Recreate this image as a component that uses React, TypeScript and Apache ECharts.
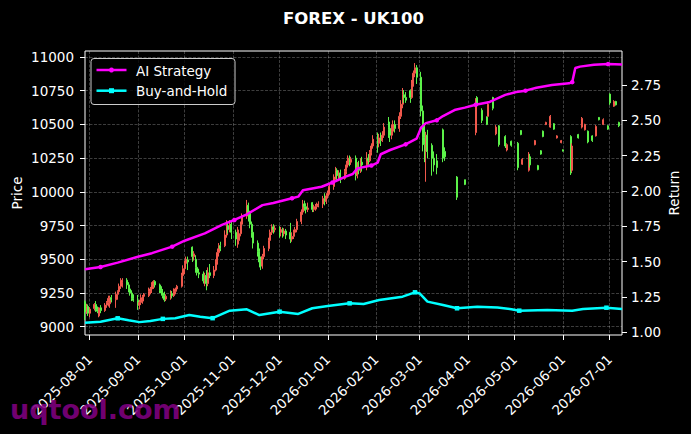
import React, { useEffect, useRef } from "react";
import * as echarts from "echarts";

const TITLE = "FOREX - UK100";
const START_DATE = "2025-07-29";
const END_DATE = "2026-07-09";

const PRICE_MIN = 9000;
const PRICE_MAX = 11000;
const PRICE_STEP = 250;
const RETURN_MIN = 1.0;
const RETURN_MAX = 2.75;
const RETURN_STEP = 0.25;

// [date, open, close, low, high]
const candles: [string, number, number, number, number][] = [
  ["2025-07-29", 9185, 9110, 9050, 9195],
  ["2025-07-30", 9110, 9150, 9095, 9170],
  ["2025-07-31", 9150, 9100, 9080, 9165],
  ["2025-08-01", 9100, 9130, 9070, 9145],
  ["2025-08-04", 9135, 9165, 9120, 9175],
  ["2025-08-05", 9165, 9130, 9110, 9190],
  ["2025-08-06", 9130, 9115, 9100, 9150],
  ["2025-08-07", 9080, 9140, 9070, 9145],
  ["2025-08-08", 9140, 9120, 9100, 9160],
  ["2025-08-11", 9120, 9160, 9110, 9175],
  ["2025-08-12", 9160, 9180, 9140, 9190],
  ["2025-08-13", 9180, 9210, 9150, 9230],
  ["2025-08-14", 9170, 9215, 9140, 9230],
  ["2025-08-15", 9215, 9200, 9180, 9235],
  ["2025-08-18", 9200, 9240, 9140, 9260],
  ["2025-08-19", 9240, 9260, 9200, 9270],
  ["2025-08-20", 9260, 9300, 9250, 9320],
  ["2025-08-21", 9300, 9340, 9280, 9360],
  ["2025-08-22", 9330, 9345, 9290, 9360],
  ["2025-08-25", 9345, 9310, 9280, 9360],
  ["2025-08-26", 9310, 9280, 9255, 9330],
  ["2025-08-27", 9280, 9250, 9230, 9290],
  ["2025-08-28", 9250, 9210, 9190, 9270],
  ["2025-08-29", 9210, 9195, 9185, 9240],
  ["2025-09-01", 9195, 9160, 9125, 9235],
  ["2025-09-02", 9160, 9180, 9130, 9200],
  ["2025-09-03", 9180, 9215, 9160, 9240],
  ["2025-09-04", 9190, 9225, 9170, 9235],
  ["2025-09-05", 9225, 9240, 9200, 9250],
  ["2025-09-08", 9230, 9260, 9220, 9290],
  ["2025-09-09", 9260, 9280, 9240, 9295],
  ["2025-09-10", 9280, 9310, 9250, 9330],
  ["2025-09-11", 9300, 9335, 9280, 9345],
  ["2025-09-12", 9335, 9310, 9290, 9345],
  ["2025-09-15", 9310, 9270, 9250, 9320],
  ["2025-09-16", 9270, 9250, 9230, 9300],
  ["2025-09-17", 9250, 9230, 9210, 9280],
  ["2025-09-18", 9230, 9200, 9185, 9260],
  ["2025-09-19", 9205, 9225, 9190, 9240],
  ["2025-09-22", 9215, 9245, 9200, 9270],
  ["2025-09-23", 9245, 9230, 9210, 9265],
  ["2025-09-24", 9230, 9260, 9220, 9285],
  ["2025-09-25", 9260, 9280, 9240, 9290],
  ["2025-09-26", 9280, 9300, 9260, 9310],
  ["2025-09-29", 9300, 9380, 9290, 9400],
  ["2025-09-30", 9380, 9430, 9360, 9455],
  ["2025-10-01", 9430, 9470, 9390, 9490],
  ["2025-10-02", 9470, 9500, 9440, 9520],
  ["2025-10-03", 9495, 9480, 9420, 9520],
  ["2025-10-06", 9590, 9520, 9480, 9595],
  ["2025-10-07", 9520, 9540, 9490, 9560],
  ["2025-10-08", 9500, 9440, 9400, 9530],
  ["2025-10-09", 9440, 9400, 9380, 9460],
  ["2025-10-10", 9400, 9390, 9360, 9430],
  ["2025-10-13", 9390, 9340, 9320, 9410],
  ["2025-10-14", 9340, 9380, 9300, 9400],
  ["2025-10-15", 9380, 9320, 9270, 9420],
  ["2025-10-16", 9320, 9400, 9300, 9440],
  ["2025-10-17", 9400, 9380, 9360, 9465],
  ["2025-10-20", 9380, 9420, 9360, 9450],
  ["2025-10-21", 9420, 9480, 9410, 9500],
  ["2025-10-22", 9480, 9550, 9460, 9580],
  ["2025-10-23", 9550, 9600, 9520, 9620],
  ["2025-10-24", 9600, 9580, 9560, 9630],
  ["2025-10-27", 9600, 9680, 9590, 9715],
  ["2025-10-28", 9680, 9750, 9660, 9790],
  ["2025-10-29", 9750, 9720, 9690, 9780],
  ["2025-10-30", 9720, 9760, 9700, 9790],
  ["2025-10-31", 9760, 9700, 9650, 9780],
  ["2025-11-03", 9700, 9650, 9600, 9720],
  ["2025-11-04", 9650, 9700, 9585, 9740],
  ["2025-11-05", 9640, 9690, 9610, 9720],
  ["2025-11-06", 9690, 9760, 9670, 9780],
  ["2025-11-07", 9760, 9820, 9740, 9840],
  ["2025-11-10", 9820, 9900, 9800, 9940],
  ["2025-11-11", 9900, 9840, 9780, 9920],
  ["2025-11-12", 9840, 9760, 9730, 9860],
  ["2025-11-13", 9760, 9700, 9660, 9780],
  ["2025-11-14", 9700, 9620, 9580, 9720],
  ["2025-11-17", 9620, 9560, 9520, 9640],
  ["2025-11-18", 9560, 9480, 9440, 9580],
  ["2025-11-19", 9480, 9450, 9420, 9520],
  ["2025-11-20", 9450, 9520, 9430, 9540],
  ["2025-11-21", 9520, 9580, 9500, 9600],
  ["2025-11-24", 9580, 9640, 9560, 9660],
  ["2025-11-25", 9640, 9700, 9610, 9720],
  ["2025-11-26", 9700, 9740, 9680, 9760],
  ["2025-11-27", 9740, 9720, 9690, 9760],
  ["2025-11-28", 9720, 9730, 9700, 9750],
  ["2025-12-01", 9730, 9700, 9660, 9745],
  ["2025-12-02", 9700, 9720, 9670, 9740],
  ["2025-12-03", 9720, 9690, 9660, 9735],
  ["2025-12-04", 9690, 9710, 9670, 9730],
  ["2025-12-05", 9710, 9680, 9650, 9725],
  ["2025-12-08", 9700, 9650, 9620, 9770],
  ["2025-12-09", 9650, 9670, 9630, 9700],
  ["2025-12-10", 9670, 9700, 9650, 9720],
  ["2025-12-11", 9700, 9720, 9680, 9740],
  ["2025-12-12", 9720, 9780, 9700, 9800],
  ["2025-12-15", 9780, 9850, 9760, 9870],
  ["2025-12-16", 9850, 9910, 9830, 9940],
  ["2025-12-17", 9910, 9890, 9860, 9935],
  ["2025-12-18", 9890, 9870, 9840, 9915],
  ["2025-12-19", 9870, 9880, 9850, 9920],
  ["2025-12-22", 9920, 9870, 9850, 9925],
  ["2025-12-23", 9870, 9880, 9850, 9905],
  ["2025-12-24", 9880, 9890, 9860, 9910],
  ["2025-12-25", 9890, 9900, 9870, 9920],
  ["2025-12-26", 9900, 9910, 9885, 9930],
  ["2025-12-29", 9910, 9950, 9880, 9970],
  ["2025-12-30", 9950, 9930, 9900, 9990],
  ["2025-12-31", 9930, 9970, 9910, 9990],
  ["2026-01-01", 9970, 9990, 9950, 10010],
  ["2026-01-02", 9990, 10040, 9980, 10060],
  ["2026-01-05", 10040, 10110, 10015, 10130],
  ["2026-01-06", 10110, 10160, 10090, 10185],
  ["2026-01-07", 10160, 10120, 10080, 10175],
  ["2026-01-08", 10120, 10140, 10080, 10160],
  ["2026-01-09", 10140, 10100, 10065, 10165],
  ["2026-01-12", 10100, 10150, 10090, 10170],
  ["2026-01-13", 10150, 10200, 10130, 10230],
  ["2026-01-14", 10200, 10250, 10180, 10270],
  ["2026-01-15", 10250, 10220, 10190, 10270],
  ["2026-01-16", 10220, 10240, 10200, 10260],
  ["2026-01-19", 10250, 10120, 10085, 10270],
  ["2026-01-20", 10120, 10180, 10100, 10220],
  ["2026-01-21", 10180, 10160, 10130, 10230],
  ["2026-01-22", 10160, 10220, 10140, 10250],
  ["2026-01-23", 10220, 10200, 10150, 10260],
  ["2026-01-26", 10200, 10250, 10160, 10295],
  ["2026-01-27", 10250, 10230, 10200, 10280],
  ["2026-01-28", 10230, 10290, 10220, 10310],
  ["2026-01-29", 10290, 10340, 10270, 10360],
  ["2026-01-30", 10340, 10390, 10320, 10420],
  ["2026-02-02", 10390, 10360, 10290, 10440],
  ["2026-02-03", 10360, 10400, 10330, 10430],
  ["2026-02-04", 10400, 10380, 10340, 10440],
  ["2026-02-05", 10380, 10420, 10370, 10450],
  ["2026-02-06", 10420, 10480, 10400, 10510],
  ["2026-02-09", 10480, 10460, 10400, 10555],
  ["2026-02-10", 10470, 10420, 10370, 10520],
  ["2026-02-11", 10420, 10450, 10390, 10500],
  ["2026-02-12", 10450, 10500, 10430, 10530],
  ["2026-02-13", 10500, 10470, 10440, 10530],
  ["2026-02-16", 10470, 10560, 10445, 10590],
  ["2026-02-17", 10560, 10650, 10540, 10680],
  ["2026-02-18", 10650, 10720, 10620, 10770],
  ["2026-02-19", 10720, 10700, 10660, 10755],
  ["2026-02-20", 10700, 10680, 10660, 10740],
  ["2026-02-23", 10750, 10700, 10660, 10760],
  ["2026-02-24", 10700, 10800, 10690, 10830],
  ["2026-02-25", 10800, 10880, 10780, 10900],
  ["2026-02-26", 10880, 10920, 10850, 10955],
  ["2026-02-27", 10920, 10850, 10800, 10940],
  ["2026-03-02", 10850, 10600, 10560, 10890],
  ["2026-03-03", 10600, 10400, 10300, 10640],
  ["2026-03-04", 10400, 10350, 10220, 10495],
  ["2026-03-05", 10300, 10420, 10075, 10445],
  ["2026-03-06", 10420, 10300, 10250, 10460],
  ["2026-03-09", 10345, 10250, 10120, 10360],
  ["2026-03-10", 10250, 10200, 10150, 10300],
  ["2026-03-12", 10230, 10180, 10130, 10280],
  ["2026-03-16", 10460, 10250, 10220, 10470],
  ["2026-03-17", 10300, 10260, 10230, 10330],
  ["2026-03-25", 10110, 9960, 9940, 10117],
  ["2026-03-30", 10090, 10055, 10050, 10090],
  ["2026-04-06", 10440, 10640, 10420, 10695],
  ["2026-04-07", 10700, 10640, 10630, 10710],
  ["2026-04-10", 10605, 10530, 10510, 10620],
  ["2026-04-13", 10555, 10500, 10495, 10560],
  ["2026-04-14", 10560, 10650, 10557, 10668],
  ["2026-04-17", 10700, 10620, 10605, 10705],
  ["2026-04-19", 10430, 10480, 10420, 10495],
  ["2026-04-21", 10490, 10350, 10335, 10495],
  ["2026-04-25", 10410, 10340, 10325, 10420],
  ["2026-04-26", 10310, 10350, 10300, 10360],
  ["2026-04-29", 10375, 10345, 10335, 10380],
  ["2026-05-03", 10360, 10180, 10160, 10370],
  ["2026-05-05", 10455, 10425, 10420, 10458],
  ["2026-05-06", 10205, 10240, 10200, 10250],
  ["2026-05-10", 10160, 10280, 10150, 10295],
  ["2026-05-11", 10260, 10200, 10180, 10280],
  ["2026-05-14", 10350, 10380, 10345, 10385],
  ["2026-05-16", 10195, 10165, 10160, 10200],
  ["2026-05-18", 10305, 10280, 10275, 10310],
  ["2026-05-19", 10450, 10410, 10405, 10455],
  ["2026-05-21", 10500, 10515, 10495, 10520],
  ["2026-05-24", 10480, 10560, 10475, 10570],
  ["2026-05-26", 10505, 10465, 10460, 10510],
  ["2026-05-28", 10400, 10415, 10395, 10420],
  ["2026-05-31", 10365, 10380, 10360, 10385],
  ["2026-06-01", 10312, 10302, 10300, 10315],
  ["2026-06-06", 10410, 10140, 10125, 10420],
  ["2026-06-07", 10160, 10340, 10145, 10360],
  ["2026-06-11", 10425, 10400, 10395, 10430],
  ["2026-06-13", 10480, 10545, 10470, 10555],
  ["2026-06-15", 10460, 10500, 10455, 10505],
  ["2026-06-17", 10450, 10370, 10360, 10455],
  ["2026-06-20", 10415, 10380, 10370, 10420],
  ["2026-06-22", 10415, 10485, 10410, 10495],
  ["2026-06-24", 10552, 10535, 10530, 10555],
  ["2026-06-27", 10500, 10535, 10495, 10545],
  ["2026-06-30", 10490, 10465, 10460, 10495],
  ["2026-07-01", 10725, 10660, 10645, 10730],
  ["2026-07-04", 10635, 10670, 10630, 10680],
  ["2026-07-05", 10670, 10645, 10640, 10675],
  ["2026-07-07", 10515, 10490, 10480, 10520],
];

const aiDates = [
  "2025-07-29", "2025-08-08", "2025-08-19", "2025-09-01", "2025-09-10", "2025-09-23",
  "2025-10-01", "2025-10-14", "2025-10-25", "2025-11-02", "2025-11-10", "2025-11-20",
  "2025-11-27", "2025-12-09", "2025-12-13", "2025-12-16", "2025-12-28", "2026-01-04",
  "2026-01-12", "2026-01-17", "2026-01-20", "2026-01-29", "2026-02-02", "2026-02-04",
  "2026-02-10", "2026-02-20", "2026-02-27", "2026-03-02", "2026-03-05", "2026-03-12",
  "2026-03-16", "2026-03-24", "2026-03-30", "2026-04-06", "2026-04-15", "2026-04-25",
  "2026-05-02", "2026-05-08", "2026-05-15", "2026-05-25", "2026-06-05", "2026-06-07",
  "2026-06-09", "2026-06-12", "2026-06-21", "2026-06-30", "2026-07-09",
];
const aiValues = [
  1.446, 1.462, 1.493, 1.535, 1.56, 1.606,
  1.648, 1.70, 1.76, 1.795, 1.835, 1.90,
  1.915, 1.949, 1.96, 2.005, 2.03, 2.06,
  2.10, 2.12, 2.16, 2.18, 2.20, 2.26,
  2.29, 2.33, 2.37, 2.45, 2.48, 2.50,
  2.53, 2.575, 2.59, 2.61, 2.63, 2.68,
  2.70, 2.71, 2.73, 2.75, 2.762, 2.77,
  2.87, 2.88, 2.893, 2.898, 2.895,
];

const bhDates = [
  "2025-07-29", "2025-08-08", "2025-08-19", "2025-08-26", "2025-09-02", "2025-09-09",
  "2025-09-17", "2025-09-25", "2025-10-04", "2025-10-11", "2025-10-19", "2025-10-30",
  "2025-11-10", "2025-11-18", "2025-12-01", "2025-12-13", "2025-12-22", "2026-01-01",
  "2026-01-15", "2026-01-24", "2026-02-03", "2026-02-18", "2026-02-26", "2026-03-01",
  "2026-03-06", "2026-03-16", "2026-03-25", "2026-04-07", "2026-04-20", "2026-04-29",
  "2026-05-04", "2026-05-22", "2026-06-07", "2026-06-14", "2026-06-29", "2026-07-09",
];
const bhValues = [
  1.068, 1.075, 1.099, 1.085, 1.072, 1.08,
  1.095, 1.10, 1.122, 1.11, 1.10, 1.153,
  1.163, 1.122, 1.146, 1.13, 1.17, 1.186,
  1.205, 1.20, 1.229, 1.252, 1.283, 1.275,
  1.217, 1.193, 1.17, 1.181, 1.175, 1.163,
  1.153, 1.158, 1.153, 1.165, 1.174, 1.165,
];

const FONT = "DejaVu Sans";
const RED = "#f0584c";
const GREEN = "#5cf24a";
const MAGENTA = "#ff00ff";
const CYAN = "#00ffff";
const GRID_COLOR = "rgba(255,255,255,0.3)";

function buildDays(start: string, end: string): string[] {
  const [sy, sm, sd] = start.split("-").map(Number);
  const [ey, em, ed] = end.split("-").map(Number);
  let t = Date.UTC(sy, sm - 1, sd);
  const te = Date.UTC(ey, em - 1, ed);
  const out: string[] = [];
  while (t <= te) {
    out.push(new Date(t).toISOString().slice(0, 10));
    t += 86400000;
  }
  return out;
}

export default function App() {
  const ref = useRef<HTMLDivElement | null>(null);

  useEffect(() => {
    if (!ref.current) return;
    const chart = echarts.init(ref.current, undefined, { renderer: "svg" });

    const days = buildDays(START_DATE, END_DATE);
    const dayIndex = new Map(days.map((d, i) => [d, i]));
    const candleMap = new Map(candles.map((r) => [r[0], r]));
    const candleData = days.map((d) => {
      const r = candleMap.get(d);
      return r ? [r[1], r[2], r[3], r[4]] : ["-", "-", "-", "-"];
    });
    const aiData = aiDates.map((d, i) => [dayIndex.get(d), aiValues[i]]);
    const bhData = bhDates.map((d, i) => [dayIndex.get(d), bhValues[i]]);
    const isMonthStart = (_i: number, v: string) => String(v).slice(8) === "01";

    const baseX = { type: "category", data: days, boundaryGap: false };
    const tickStyle = { show: true, length: 5, lineStyle: { color: "#ffffff", width: 1 } };
    const labelStyle = { color: "#ffffff", fontSize: 13.5, fontFamily: FONT };
    const gridLine = { color: GRID_COLOR, width: 0.8, type: [3, 1.5] };

    const option: any = {
      animation: false,
      backgroundColor: "#000000",
      textStyle: { fontFamily: FONT },
      grid: [
        { left: 85, right: 69, top: 57, height: 269.7 },
        { left: 85, right: 69, top: 85, height: 247.3 },
        {
          left: 85, right: 69, top: 51, height: 284,
          show: true, borderColor: "#ffffff", borderWidth: 1, backgroundColor: "transparent",
        },
      ],
      xAxis: [
        { ...baseX, gridIndex: 0, show: false },
        { ...baseX, gridIndex: 1, show: false },
        {
          ...baseX,
          gridIndex: 2,
          axisLine: { show: false },
          axisTick: { ...tickStyle, interval: isMonthStart },
          axisLabel: { ...labelStyle, interval: isMonthStart, rotate: 45, margin: 22 },
          splitLine: { show: true, interval: isMonthStart, lineStyle: gridLine },
        },
      ],
      yAxis: [
        {
          type: "value", gridIndex: 0, position: "left",
          min: PRICE_MIN, max: PRICE_MAX, interval: PRICE_STEP,
          axisLine: { show: false },
          axisTick: tickStyle,
          axisLabel: { ...labelStyle, margin: 11, formatter: (v: number) => String(v) },
          splitLine: { show: true, lineStyle: gridLine },
        },
        {
          type: "value", gridIndex: 1, position: "right",
          min: RETURN_MIN, max: RETURN_MAX, interval: RETURN_STEP,
          axisLine: { show: false },
          axisTick: tickStyle,
          axisLabel: { ...labelStyle, margin: 9, formatter: (v: number) => v.toFixed(2) },
          splitLine: { show: false },
        },
        { type: "value", gridIndex: 2, show: false, min: 0, max: 1 },
      ],
      series: [
        {
          type: "candlestick",
          name: "UK100",
          xAxisIndex: 0,
          yAxisIndex: 0,
          data: candleData,
          barWidth: 1.5,
          itemStyle: { color: RED, color0: GREEN, borderColor: RED, borderColor0: GREEN, borderWidth: 1 },
        },
        {
          type: "line",
          name: "AI Strategy",
          xAxisIndex: 1,
          yAxisIndex: 1,
          data: aiData,
          clip: false,
          showSymbol: true,
          showAllSymbol: true,
          symbol: "circle",
          symbolSize: (_v: any, p: any) => (p.dataIndex % 4 === 1 ? 4.5 : 0),
          lineStyle: { color: MAGENTA, width: 2.5 },
          itemStyle: { color: MAGENTA },
          z: 4,
        },
        {
          type: "line",
          name: "Buy-and-Hold",
          xAxisIndex: 1,
          yAxisIndex: 1,
          data: bhData,
          clip: false,
          showSymbol: true,
          showAllSymbol: true,
          symbol: "rect",
          symbolSize: (_v: any, p: any) => (p.dataIndex % 4 === 2 ? 4.5 : 0),
          lineStyle: { color: CYAN, width: 2.5 },
          itemStyle: { color: CYAN },
          z: 4,
        },
      ],
      graphic: [
        {
          type: "text", x: 10, y: 409, z: 200,
          style: {
            text: "uqtool.com", fill: "rgba(128,0,128,0.9)",
            fontSize: 27, fontWeight: "bold", fontFamily: FONT, verticalAlign: "middle",
          },
        },
        {
          type: "text", x: 353.5, y: 18,
          style: {
            text: TITLE, fill: "#ffffff", fontSize: 16.5, fontWeight: "bold", fontFamily: FONT,
            align: "center", verticalAlign: "middle",
          },
        },
        {
          type: "text", x: 17, y: 193, rotation: Math.PI / 2,
          style: { text: "Price", fill: "#ffffff", fontSize: 13.5, fontFamily: FONT, align: "center", verticalAlign: "middle" },
        },
        {
          type: "text", x: 674, y: 193, rotation: Math.PI / 2,
          style: { text: "Return", fill: "#ffffff", fontSize: 13.5, fontFamily: FONT, align: "center", verticalAlign: "middle" },
        },
        {
          type: "rect", z: 100,
          shape: { x: 91, y: 58.5, width: 144, height: 46, r: 3 },
          style: { fill: "rgba(0,0,0,0.8)", stroke: "#cccccc", lineWidth: 1 },
        },
        {
          type: "line", z: 101,
          shape: { x1: 96.5, y1: 70, x2: 126.5, y2: 70 },
          style: { stroke: MAGENTA, lineWidth: 2.5 },
        },
        { type: "circle", z: 102, shape: { cx: 111.5, cy: 70, r: 2.5 }, style: { fill: MAGENTA } },
        {
          type: "text", x: 136, y: 70.5, z: 101,
          style: { text: "AI Strategy", fill: "#ffffff", fontSize: 13.5, fontFamily: FONT, verticalAlign: "middle" },
        },
        {
          type: "line", z: 101,
          shape: { x1: 96.5, y1: 90.7, x2: 126.5, y2: 90.7 },
          style: { stroke: CYAN, lineWidth: 2.5 },
        },
        { type: "rect", z: 102, shape: { x: 109, y: 88.2, width: 5, height: 5 }, style: { fill: CYAN } },
        {
          type: "text", x: 136, y: 91, z: 101,
          style: { text: "Buy-and-Hold", fill: "#ffffff", fontSize: 13.5, fontFamily: FONT, verticalAlign: "middle" },
        },
      ],
    };

    chart.setOption(option);
    return () => chart.dispose();
  }, []);

  return (
    <div
      ref={ref}
      style={{ position: "fixed", left: 0, top: 0, width: 691, height: 434, background: "#000" }}
    />
  );
}
